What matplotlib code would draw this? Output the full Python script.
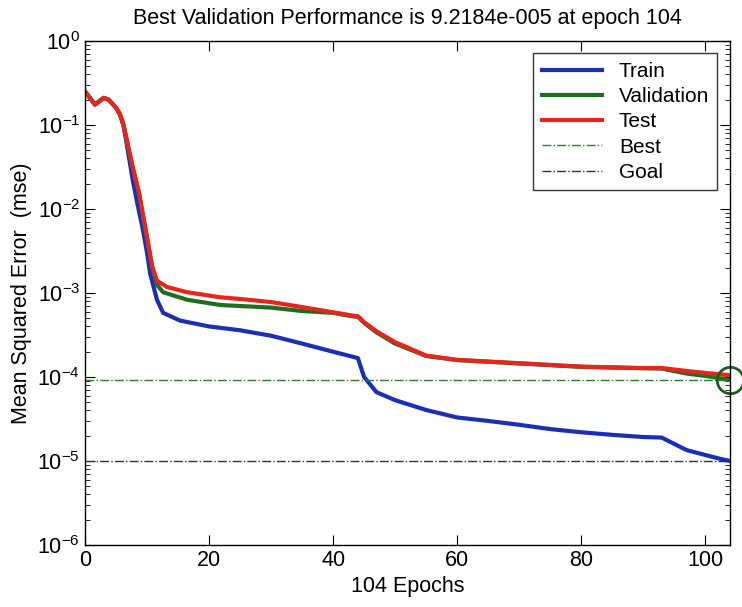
import matplotlib
matplotlib.use('Agg')
import matplotlib.pyplot as plt
from matplotlib.ticker import LogLocator, LogFormatterMathtext, NullFormatter

plt.rcParams['font.family'] = ['Liberation Sans', 'DejaVu Sans']
plt.rcParams['axes.unicode_minus'] = False

# training record
ep_train = [0, 1, 1.6, 3, 3.8, 5, 5.6, 6.2, 7, 7.7, 8.5, 9.35, 10, 10.5, 11.6, 12.6, 15.3, 20, 25, 30,
            35, 40, 44, 45, 47, 50, 55, 60, 65, 70, 75, 80, 85, 90, 93, 95, 97, 100, 102, 104]
train = [0.25, 0.2, 0.175, 0.21, 0.2, 0.16, 0.135, 0.1, 0.045, 0.022, 0.011, 0.0056, 0.003, 0.0017,
         0.00083, 0.00058, 0.00047, 0.0004, 0.00036, 0.00031, 0.00025, 0.0002, 0.000168, 0.0001,
         6.6e-5, 5.3e-5, 4.05e-5, 3.3e-5, 3.0e-5, 2.7e-5, 2.4e-5, 2.2e-5, 2.05e-5, 1.93e-5,
         1.9e-5, 1.6e-5, 1.35e-5, 1.18e-5, 1.08e-5, 1.0e-5]

ep_val = [0, 1, 1.6, 3, 3.8, 5, 5.6, 6.2, 7.3, 8, 8.6, 9.7, 10.8, 11.6, 12.6, 16.5, 21.8, 25, 30, 35,
          40, 43, 44, 45, 47, 50, 55, 60, 70, 80, 90, 93, 97, 100, 104]
val = [0.25, 0.2, 0.175, 0.21, 0.2, 0.16, 0.135, 0.1, 0.042, 0.025, 0.0168, 0.006, 0.0021, 0.00125,
       0.00102, 0.00083, 0.00072, 0.0007, 0.00067, 0.00061, 0.00058, 0.00053, 0.00052,
       0.00044, 0.00034, 0.00025, 0.000178, 0.000159, 0.000145, 0.000132, 0.000127,
       0.000126, 0.00011, 0.000103, 9.2184e-5]

ep_test = [0, 1, 1.6, 3, 3.8, 5, 5.6, 6.2, 7.3, 8, 8.6, 9.7, 10.8, 11.6, 13.2, 16.5, 21.8, 25, 30, 35,
           40, 43, 44, 45, 47, 50, 55, 60, 70, 80, 90, 93, 97, 100, 104]
test = [0.25, 0.2, 0.175, 0.21, 0.2, 0.16, 0.135, 0.1, 0.042, 0.025, 0.0168, 0.006, 0.0021, 0.0014,
        0.00118, 0.00102, 0.00089, 0.00085, 0.00078, 0.00068, 0.00059, 0.00054, 0.00053,
        0.00045, 0.00035, 0.00026, 0.00018, 0.00016, 0.000146, 0.000133, 0.000128,
        0.000128, 0.000118, 0.000112, 0.000105]

best_epoch = 104
best_perf = 9.2184e-5
goal = 1e-5
n_epochs = 104
y_ticks = [1e-6, 1e-5, 1e-4, 1e-3, 1e-2, 1e-1, 1e0]

fig = plt.figure(figsize=(7.42, 6.07), dpi=100)
ax = fig.add_axes([0.1146, 0.1021, 0.8692, 0.8304])

ax.semilogy(ep_train, train, color='#1c2fb4', lw=3, label='Train')
ax.semilogy(ep_val, val, color='#1f6e1f', lw=3, label='Validation')
ax.semilogy(ep_test, test, color='#e4261c', lw=3, label='Test')
ax.axhline(best_perf, color='#2f7a2f', lw=1, ls='-.', label='Best')
ax.axhline(goal, color='#333333', lw=1, ls='-.', label='Goal')
ax.plot([best_epoch], [best_perf], 'o', ms=19, mfc='none', mec='#1f5a1f', mew=2, clip_on=False)

ax.set_xlim(0, n_epochs)
ax.set_ylim(1e-6, 1e0)
ax.set_xticks([0, 20, 40, 60, 80, 100])
ax.set_yticks(y_ticks)
ax.yaxis.set_major_formatter(LogFormatterMathtext())
ax.yaxis.set_minor_locator(LogLocator(base=10, subs=range(2, 10), numticks=20))
ax.yaxis.set_minor_formatter(NullFormatter())
ax.set_ylim(1e-6, 1e0)
ax.tick_params(which='both', direction='in', top=True, right=True, labelsize=15.5)
ax.tick_params(which='major', length=7)
ax.tick_params(which='minor', length=3.5)
for s in ax.spines.values():
    s.set_linewidth(1)

ax.set_title('Best Validation Performance is 9.2184e-005 at epoch 104', fontsize=15.5, pad=12)
ax.set_xlabel('104 Epochs', fontsize=15.5, labelpad=4)
ax.set_ylabel('Mean Squared Error  (mse)', fontsize=15.5)

leg = ax.legend(loc='upper right', fontsize=15, fancybox=False, edgecolor='black',
                handlelength=2.9, borderaxespad=0.6, labelspacing=0.3, borderpad=0.4)
leg.get_frame().set_linewidth(1)

fig.savefig('out.png', dpi=100)
